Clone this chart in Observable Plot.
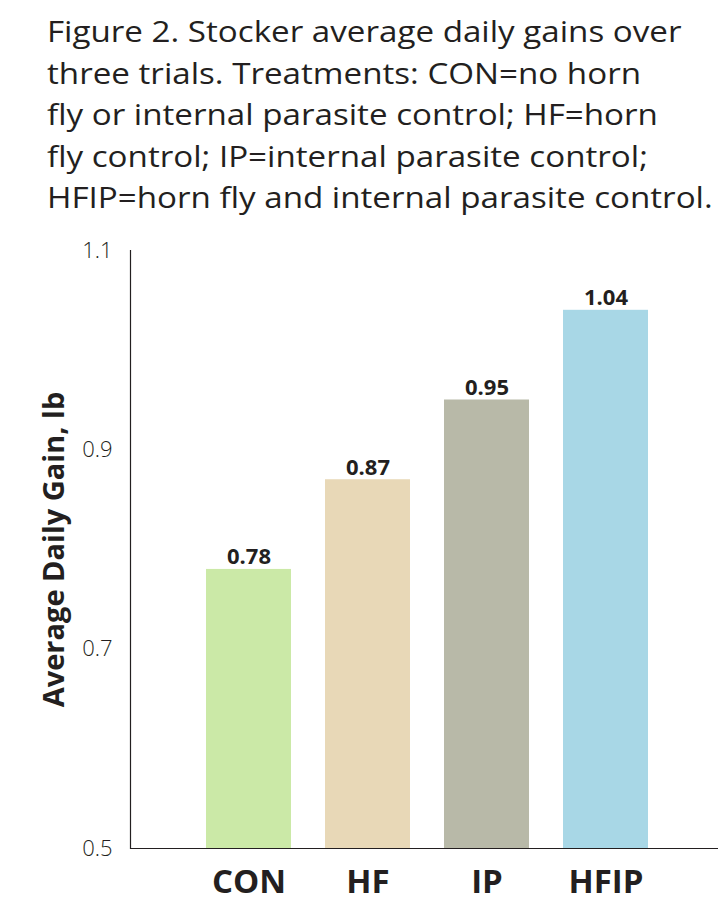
<!DOCTYPE html>
<html>
<head>
<meta charset="utf-8">
<script src="https://cdn.jsdelivr.net/npm/d3@7"></script>
<script src="https://cdn.jsdelivr.net/npm/@observablehq/plot@0.6"></script>
<style>
  html, body { margin: 0; padding: 0; background: #fff; }
  #title {
    height: 232px; box-sizing: border-box; padding: 10px 0 0 47px;
    font-family: "Open Sans", sans-serif; font-size: 30px;
    line-height: 41.5px; color: #231f20; white-space: nowrap;
  }
  #title div { transform: scaleX(1.105); transform-origin: left center; }
  #chart svg { display: block; }
  .xlab text { font-stretch: 88%; }
</style>
</head>
<body>
<div id="title"></div>
<div id="chart"></div>
<script>
const titleLines = [
  "Figure 2. Stocker average daily gains over",
  "three trials. Treatments: CON=no horn",
  "fly or internal parasite control; HF=horn",
  "fly control; IP=internal parasite control;",
  "HFIP=horn fly and internal parasite control."
];
const treatments = ["CON", "HF", "IP", "HFIP"];
const gains = [0.78, 0.87, 0.95, 1.04];
const colors = ["#cbe9a7", "#e8d8b7", "#b8b9a8", "#a8d7e6"];
const yTicks = [0.5, 0.7, 0.9, 1.1];
const yLabel = "Average Daily Gain, lb";

document.getElementById("title").innerHTML = titleLines.map(l => `<div>${l}</div>`).join("");

const data = treatments.map((t, i) => ({treatment: t, gain: gains[i], color: colors[i]}));
const ink = "#231f20";

const chart = Plot.plot({
  width: 728,
  height: 678,
  marginLeft: 130,
  marginRight: 10,
  marginTop: 18,
  marginBottom: 62,
  style: {fontFamily: "Open Sans, sans-serif", color: ink, background: "#fff"},
  x: {domain: treatments, paddingInner: 0.2875, paddingOuter: 0.608, align: 0.52, label: null},
  y: {domain: [0.5, 1.1], label: null},
  marks: [
    Plot.barY(data, {x: "treatment", y1: 0.5, y2: "gain", fill: "color"}),
    Plot.text(data, {x: "treatment", y: "gain", text: d => d.gain.toFixed(2), lineAnchor: "bottom", dy: -5,
      fontSize: 22, fontWeight: "bold", fill: ink}),
    Plot.ruleY([0.5], {stroke: ink, strokeWidth: 1.2}),
    Plot.frame({anchor: "left", stroke: ink, strokeWidth: 1.2}),
    Plot.axisY({ticks: yTicks, tickFormat: d => String(d), tickSize: 0, tickPadding: 18,
      fontSize: 22, fontWeight: 300, label: null}),
    Plot.axisX({tickSize: 0, tickPadding: 21, fontSize: 33, fontWeight: "bold", label: null, className: "xlab"}),
    Plot.text([yLabel], {frameAnchor: "left", textAnchor: "middle", rotate: -90, dx: -76,
      fontSize: 29, fontWeight: "bold", fill: ink})
  ]
});
document.getElementById("chart").append(chart);
</script>
</body>
</html>
